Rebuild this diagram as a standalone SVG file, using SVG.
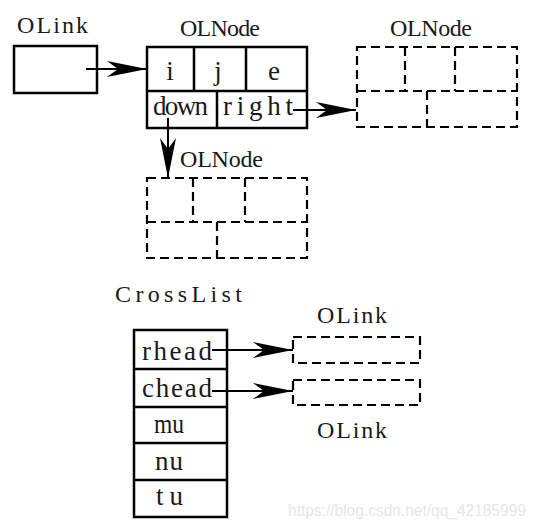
<svg xmlns="http://www.w3.org/2000/svg" width="540" height="530" viewBox="0 0 540 530">
<style>
.solid{fill:none;stroke:#000;stroke-width:2.5}
.dash{fill:none;stroke:#000;stroke-width:2.2;stroke-dasharray:9 5}
.lbl{font-family:"Liberation Serif","DejaVu Serif",serif;font-size:24px;fill:#1a1a1a}
.cell{font-family:"Liberation Serif","DejaVu Serif",serif;font-size:27px;fill:#1a1a1a}
.wm{font-family:"Liberation Sans",Arial,sans-serif;font-size:17px;fill:#e6e6e6}
.conn{fill:none;stroke:#000;stroke-width:2}
</style>
<defs>
<marker id="arr" viewBox="0 0 40 16" refX="40" refY="8" markerWidth="40" markerHeight="16" markerUnits="userSpaceOnUse" orient="auto">
<path d="M0,0 L40,8 L0,16 L11,8 Z" fill="#000"/>
</marker>
</defs>
<rect width="540" height="530" fill="#fff"/>

<g id="olink">
<text class="lbl" x="17" y="33" textLength="71" lengthAdjust="spacing">OLink</text>
<rect class="solid" x="14" y="46" width="83" height="47"/>
</g>

<g id="olnode-main">
<text class="lbl" x="180" y="36" textLength="80" lengthAdjust="spacing">OLNode</text>
<rect class="solid" x="147" y="47" width="160" height="81"/>
<path class="solid" d="M147,91 H307 M194,47 V91 M246,47 V91 M217,91 V128"/>
<text class="cell" x="170" y="80" text-anchor="middle">i</text>
<text class="cell" x="218" y="80" text-anchor="middle">j</text>
<text class="cell" x="274" y="80" text-anchor="middle">e</text>
<text class="cell" x="153" y="115" textLength="55" lengthAdjust="spacing">down</text>
<text class="cell" x="223" y="115" textLength="70" lengthAdjust="spacing">right</text>
</g>

<g id="olnode-right">
<text class="lbl" x="390" y="36" textLength="82" lengthAdjust="spacing">OLNode</text>
<rect class="dash" x="357" y="47" width="160" height="80"/>
<path class="dash" d="M357,91 H517 M405,47 V91 M455,47 V91 M427,91 V127"/>
</g>

<g id="olnode-down">
<text class="lbl" x="180" y="167" textLength="83" lengthAdjust="spacing">OLNode</text>
<rect class="dash" x="147" y="178" width="160" height="80"/>
<path class="dash" d="M147,222 H307 M193,178 V222 M245,178 V222 M217,222 V258"/>
</g>

<g id="crosslist">
<text class="lbl" x="115" y="302" textLength="127" lengthAdjust="spacing">CrossList</text>
<rect class="solid" x="134" y="330" width="93" height="187"/>
<path class="solid" d="M134,369 H227 M134,407 H227 M134,443 H227 M134,480 H227"/>
<text class="cell" x="142" y="360" textLength="70" lengthAdjust="spacing">rhead</text>
<text class="cell" x="142" y="397" textLength="70" lengthAdjust="spacing">chead</text>
<text class="cell" x="154" y="433" textLength="30" lengthAdjust="spacingAndGlyphs">mu</text>
<text class="cell" x="155" y="470" textLength="28" lengthAdjust="spacing">nu</text>
<text class="cell" x="156" y="505" textLength="27" lengthAdjust="spacing">tu</text>
</g>

<g id="olink-rhead">
<text class="lbl" x="317" y="323" textLength="70" lengthAdjust="spacing">OLink</text>
<rect class="dash" x="293" y="337" width="127" height="26"/>
</g>

<g id="olink-chead">
<rect class="dash" x="293" y="380" width="127" height="25"/>
<text class="lbl" x="317" y="438" textLength="70" lengthAdjust="spacing">OLink</text>
</g>

<g id="connectors">
<path class="conn" d="M86,69 H147" marker-end="url(#arr)"/>
<path class="conn" d="M293,110 H356" marker-end="url(#arr)"/>
<path class="conn" d="M168,118 V178" marker-end="url(#arr)"/>
<path class="conn" d="M212,350 H293" marker-end="url(#arr)"/>
<path class="conn" d="M212,391 H293" marker-end="url(#arr)"/>
</g>

<text class="wm" x="288" y="516" textLength="238" lengthAdjust="spacingAndGlyphs">https://blog.csdn.net/qq_42185999</text>
</svg>
